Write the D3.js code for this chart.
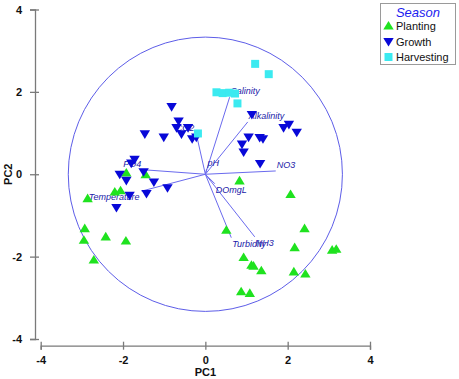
<!DOCTYPE html>
<html>
<head>
<meta charset="utf-8">
<script src="https://cdn.jsdelivr.net/npm/d3@7"></script>
<style>
  body { margin: 0; background: #fff; }
  svg { display: block; font-family: "Liberation Sans", Arial, sans-serif; }
</style>
</head>
<body>
<svg id="vis" width="459" height="379"></svg>
<script>
// PCA biplot, scores per season + loading vectors
var plantingX = [-1.92, -1.45, -2.20, -2.06, -2.86, -2.93, -2.95, -2.42, -1.93, -2.71,
                 0.83, 2.07, 0.51, 2.41, 2.17, 3.08, 3.18, 0.93, 1.12, 1.17, 1.36, 2.15, 2.43, 0.87, 1.08];
var plantingY = [0.03, -0.01, -0.43, -0.40, -0.59, -1.32, -1.60, -1.52, -1.62, -2.08,
                 -0.16, -0.49, -1.36, -1.32, -1.78, -1.84, -1.82, -2.02, -2.21, -2.23, -2.34, -2.37, -2.42, -2.85, -2.89];

var growthX = [-0.82, -0.65, -0.70, -0.58, -0.42, -0.32, -0.22, -1.47, -1.01, -1.72, -1.80,
               -2.08, -1.92, -1.50, -1.25, -0.92, -1.84, -1.43, -2.16,
               1.13, 1.90, 2.03, 2.22, 1.05, 1.32, 1.40, 0.89, 0.93, 1.33];
var growthY = [1.64, 1.29, 1.13, 0.98, 1.13, 0.86, 0.90, 0.98, 0.90, 0.36, 0.27,
               0.00, -0.15, 0.06, -0.19, -0.33, -0.51, -0.47, -0.81,
               1.45, 1.13, 1.21, 1.02, 0.90, 0.89, 0.86, 0.73, 0.54, 0.26];

var harvestX = [1.21, 1.54, 0.27, 0.42, 0.58, 0.72, 0.78, -0.18];
var harvestY = [2.68, 2.43, 1.99, 1.97, 1.98, 1.96, 1.72, 0.99];

var vecNames = ["Salinity", "Alkalinity", "NO3", "pH", "CO2", "PO4", "Temperature", "DOmgL", "Turbidity", "NH3"];
var vecX = [0.59, 1.03, 1.71, 0.03, -0.22, -1.51, -1.55, 0.23, 0.63, 1.20];
var vecY = [1.87, 1.27, 0.08, 0.13, 0.98, 0.11, -0.41, -0.23, -1.54, -1.52];

var circleRadius = 3.33;
var tickVals = [-4, -2, 0, 2, 4];
var seasons = ["Planting", "Growth", "Harvesting"];

var colorDict = {Planting: "#1fe21f", Growth: "#0808d8", Harvesting: "#3beaf0"};

var vis = d3.select('#vis');

var xRange = d3.scaleLinear().domain([-4, 4]).range([40.7, 370]);
var yRange = d3.scaleLinear().domain([-4, 4]).range([339, 9.5]);

// axes
var xAxis = d3.axisBottom(xRange).tickValues(tickVals).tickSizeOuter(0).tickSize(4).tickPadding(7)
    .tickFormat(function(d){ return String(d); });
var yAxis = d3.axisLeft(yRange).tickValues(tickVals).tickSizeOuter(0).tickSize(5).tickPadding(8)
    .tickFormat(function(d){ return String(d); });

var gx = vis.append('g')
    .attr('transform', 'translate(0,345.7)')
    .call(xAxis);
gx.selectAll('.tick line').attr('y1', -4).attr('y2', 4);

var gy = vis.append('g')
    .attr('transform', 'translate(35,0)')
    .call(yAxis);
gy.selectAll('.tick line').attr('x1', 4).attr('x2', -5);

[gx, gy].forEach(function(g){
    g.select('.domain').attr('stroke', '#7a7a7a').attr('stroke-width', 1.3);
    g.selectAll('.tick line').attr('stroke', '#7a7a7a').attr('stroke-width', 1.3);
    g.selectAll('.tick text').attr('fill', '#111').style('font-size', '11px')
        .style('font-family', '"Liberation Sans", Arial, sans-serif').style('font-weight', 'bold');
});

vis.append('text')
    .attr('x', xRange(0)).attr('y', 376)
    .attr('text-anchor', 'middle')
    .style('font-size', '11px').style('font-weight', 'bold').attr('fill', '#111')
    .text('PC1');
vis.append('text')
    .attr('transform', 'translate(11.5,' + yRange(0) + ') rotate(-90)')
    .attr('text-anchor', 'middle')
    .style('font-size', '11px').style('font-weight', 'bold').attr('fill', '#111')
    .text('PC2');

// correlation circle
vis.append('ellipse')
    .attr('cx', xRange(0)).attr('cy', yRange(0))
    .attr('rx', xRange(circleRadius) - xRange(0))
    .attr('ry', yRange(0) - yRange(circleRadius))
    .attr('fill', 'none').attr('stroke', '#5d5de8').attr('stroke-width', 1);

// loading vectors
for (let i = 0; i < vecNames.length; i++) {
    vis.append('line')
        .attr('x1', xRange(0)).attr('y1', yRange(0))
        .attr('x2', xRange(vecX[i])).attr('y2', yRange(vecY[i]))
        .attr('stroke', '#6a6aee').attr('stroke-width', 1);
}
for (let i = 0; i < vecNames.length; i++) {
    var left = vecX[i] < 0;
    var down = vecY[i] < 0;
    vis.append('text')
        .attr('x', xRange(vecX[i]) + (left ? -2 : 1))
        .attr('y', yRange(vecY[i]) + (down ? 9 : -3))
        .attr('text-anchor', left ? 'end' : 'start')
        .style('font-size', '9px').style('font-style', 'italic')
        .attr('fill', '#2020a8')
        .text(vecNames[i]);
}

// markers
var upTri = 'M0,-5L5.2,3.6L-5.2,3.6Z';
var downTri = 'M0,5L5.2,-3.6L-5.2,-3.6Z';
var square = 'M-4,-4H4V4H-4Z';
var shapeDict = {Planting: upTri, Growth: downTri, Harvesting: square};

function drawSeries(xs, ys, season) {
    var pts = [];
    for (let i = 0; i < xs.length; i++) pts.push({x: xs[i], y: ys[i]});
    vis.append('g').selectAll('path').data(pts).enter().append('path')
        .attr('d', shapeDict[season])
        .attr('transform', function(d){ return 'translate(' + xRange(d.x) + ',' + yRange(d.y) + ')'; })
        .attr('fill', colorDict[season]);
}
drawSeries(plantingX, plantingY, 'Planting');
drawSeries(growthX, growthY, 'Growth');
drawSeries(harvestX, harvestY, 'Harvesting');

// legend
var leg = vis.append('g');
leg.append('rect')
    .attr('x', 380.5).attr('y', 3.5).attr('width', 75).attr('height', 61)
    .attr('fill', '#fff').attr('stroke', '#9a9a9a').attr('stroke-width', 1);
leg.append('text')
    .attr('x', 418).attr('y', 16.5)
    .attr('text-anchor', 'middle')
    .style('font-size', '13px').style('font-style', 'italic')
    .attr('fill', '#1c1cf0')
    .text('Season');
seasons.forEach(function(s, i){
    var cy = 26 + i * 15.5;
    leg.append('path')
        .attr('d', shapeDict[s])
        .attr('transform', 'translate(388.5,' + cy + ')')
        .attr('fill', colorDict[s]);
    leg.append('text')
        .attr('x', 396).attr('y', cy + 4)
        .style('font-size', '11px').attr('fill', '#111')
        .text(s);
});
</script>
</body>
</html>
